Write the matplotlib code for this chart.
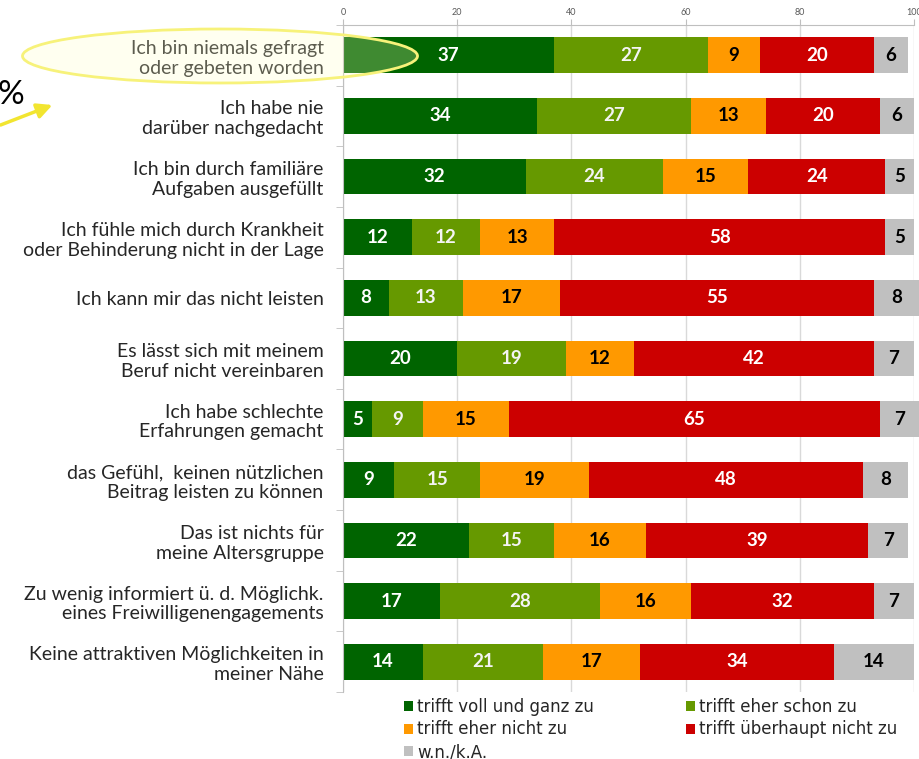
import numpy as np
import matplotlib
matplotlib.use("Agg")
import matplotlib.pyplot as plt
from matplotlib.patches import Ellipse, Patch

plt.rcParams['font.family'] = ['Lato', 'DejaVu Sans']

kategorien = [
    "Ich bin niemals gefragt\noder gebeten worden",
    "Ich habe nie\ndarüber nachgedacht",
    "Ich bin durch familiäre\nAufgaben ausgefüllt",
    "Ich fühle mich durch Krankheit\noder Behinderung nicht in der Lage",
    "Ich kann mir das nicht leisten",
    "Es lässt sich mit meinem\nBeruf nicht vereinbaren",
    "Ich habe schlechte\nErfahrungen gemacht",
    "das Gefühl,  keinen nützlichen\nBeitrag leisten zu können",
    "Das ist nichts für\nmeine Altersgruppe",
    "Zu wenig informiert ü. d. Möglichk.\neines Freiwilligenengagements",
    "Keine attraktiven Möglichkeiten in\nmeiner Nähe",
]

voll_und_ganz = [37, 34, 32, 12, 8, 20, 5, 9, 22, 17, 14]
eher_schon = [27, 27, 24, 12, 13, 19, 9, 15, 15, 28, 21]
eher_nicht = [9, 13, 15, 13, 17, 12, 15, 19, 16, 16, 17]
ueberhaupt_nicht = [20, 20, 24, 58, 55, 42, 65, 48, 39, 32, 34]
wn_ka = [6, 6, 5, 5, 8, 7, 7, 8, 7, 7, 14]

serien = [
    ("trifft voll und ganz zu", voll_und_ganz, "#006400", "white"),
    ("trifft eher schon zu", eher_schon, "#669900", "#f4f4f4"),
    ("trifft eher nicht zu", eher_nicht, "#FF9900", "black"),
    ("trifft überhaupt nicht zu", ueberhaupt_nicht, "#CC0000", "white"),
    ("w.n./k.A.", wn_ka, "#C0C0C0", "black"),
]

W, H = 919, 759
fig = plt.figure(figsize=(W / 100, H / 100), dpi=100)
ax = fig.add_axes([343 / W, 1 - 692 / H, (914 - 343) / W, (692 - 25) / H])

y = np.arange(len(kategorien))
links = np.zeros(len(kategorien))
handles = {}
for name, werte, farbe, textfarbe in serien:
    werte = np.array(werte, dtype=float)
    bars = ax.barh(y, werte, left=links, height=0.59, color=farbe, zorder=2,
                   clip_on=False, linewidth=0)
    for b, v in zip(bars, werte):
        ax.text(b.get_x() + b.get_width() / 2, b.get_y() + b.get_height() / 2,
                f"{int(v)}", ha='center', va='center', color=textfarbe,
                fontsize=13.5, fontweight='bold', zorder=3)
    handles[name] = Patch(facecolor=farbe, edgecolor='none')
    links += werte

ax.set_xlim(0, 100)
ax.set_ylim(len(kategorien) - 0.5, -0.5)
ax.set_xticks([0, 20, 40, 60, 80, 100])
ax.xaxis.tick_top()
ax.tick_params(axis='x', labelsize=6.5, labelcolor='#595959', color='#BFBFBF',
               length=4, pad=2)
ax.grid(axis='x', color='#D9D9D9', linewidth=1, zorder=0)
ax.set_axisbelow(True)

ax.set_yticks(y)
ax.set_yticklabels(kategorien, fontsize=14, color='#262626', linespacing=1.2)
ax.tick_params(axis='y', length=0, pad=14)
ax.set_yticks(np.arange(len(kategorien) + 1) - 0.5, minor=True)
ax.tick_params(axis='y', which='minor', length=5, color='#BFBFBF')

for s in ['bottom', 'right']:
    ax.spines[s].set_visible(False)
for s in ['top', 'left']:
    ax.spines[s].set_color('#BFBFBF')

reihenfolge = ["trifft voll und ganz zu", "trifft eher nicht zu", "w.n./k.A.",
               "trifft eher schon zu", "trifft überhaupt nicht zu"]
fig.legend([handles[n] for n in reihenfolge], reihenfolge, ncol=2,
           loc='upper left', bbox_to_anchor=(397 / W, 1 - 691 / H),
           frameon=False, handlelength=0.55, handleheight=0.55,
           handletextpad=0.25, columnspacing=5.5, labelspacing=0.29,
           labelcolor='#262626', borderaxespad=0,
           prop={'family': 'DejaVu Sans', 'size': 12})

# Markierung der ersten Kategorie
ell = Ellipse((220 / W, 1 - 56 / H), 395 / W, 54 / H, transform=fig.transFigure,
              facecolor=(1, 1, 0.78, 0.25), edgecolor='#F7F27A', linewidth=2,
              zorder=5)
fig.add_artist(ell)
fig.text(24 / W, 1 - 95 / H, "%", ha='right', va='center', fontsize=24,
         color='black')
fig.add_artist(plt.Annotation("", xy=(55 / W, 1 - 104 / H), xytext=(-2 / W, 1 - 126 / H),
                              xycoords='figure fraction', textcoords='figure fraction',
                              arrowprops=dict(arrowstyle='-|>,head_length=0.9,head_width=0.45',
                                              color='#F2E530', lw=2.5)))

fig.savefig("out.png", dpi=100)
